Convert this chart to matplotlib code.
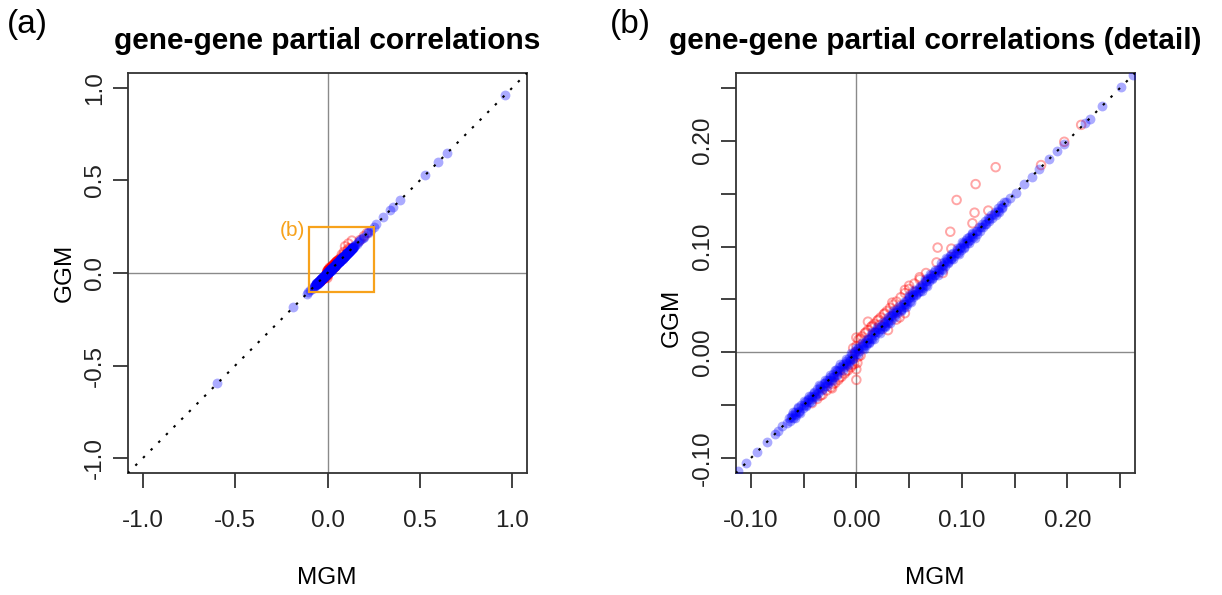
import numpy as np
import matplotlib
matplotlib.use("Agg")
import matplotlib.pyplot as plt
from matplotlib.patches import Rectangle

plt.rcParams['font.family'] = ['Liberation Sans', 'DejaVu Sans']

# blue: edges found by both models (MGM vs GGM partial correlation)
# main band, on the diagonal
band_mgm = [
    -0.066, -0.062, -0.058, -0.054, -0.050, -0.046, -0.042, -0.038, -0.034, -0.030,
    -0.026, -0.022, -0.018, -0.014, -0.010, -0.006, -0.002, 0.002, 0.006, 0.010,
    0.014, 0.018, 0.022, 0.026, 0.030, 0.034, 0.038, 0.042, 0.046, 0.050,
    0.054, 0.058, 0.062, 0.066, 0.070, 0.074, 0.078, 0.082, 0.086, 0.090,
    0.094, 0.098, 0.102, 0.106, 0.110, 0.114, 0.118, 0.122, 0.126, 0.130,
    0.134, 0.138, 0.142,
]
band_ggm = [
    -0.067, -0.061, -0.058, -0.055, -0.050, -0.045, -0.042, -0.039, -0.034, -0.029,
    -0.026, -0.023, -0.018, -0.013, -0.010, -0.007, -0.002, 0.003, 0.006, 0.009,
    0.014, 0.019, 0.022, 0.025, 0.030, 0.035, 0.038, 0.041, 0.046, 0.051,
    0.054, 0.057, 0.062, 0.067, 0.070, 0.073, 0.078, 0.083, 0.086, 0.089,
    0.094, 0.099, 0.102, 0.105, 0.110, 0.115, 0.118, 0.121, 0.126, 0.131,
    0.134, 0.137, 0.142,
]
# band, upper and lower edges
edge_mgm = [
    -0.060, -0.055, -0.050, -0.045, -0.040, -0.035, -0.030, -0.025, -0.020, -0.015,
    -0.010, -0.005, 0.000, 0.005, 0.010, 0.015, 0.020, 0.025, 0.030, 0.035,
    0.040, 0.045, 0.050, 0.055, 0.060, 0.065, 0.070, 0.075, 0.080, 0.085,
    0.090, 0.095, 0.100, 0.105, 0.110,
    -0.058, -0.053, -0.048, -0.043, -0.038, -0.033, -0.028, -0.023, -0.018, -0.013,
    -0.008, -0.003, 0.002, 0.007, 0.012, 0.017, 0.022, 0.027, 0.032, 0.037,
    0.042, 0.047, 0.052, 0.057, 0.062, 0.067, 0.072, 0.077, 0.082, 0.087,
    0.092, 0.097, 0.102, 0.107, 0.112,
]
edge_ggm = [
    -0.056, -0.052, -0.046, -0.041, -0.037, -0.031, -0.026, -0.021, -0.017, -0.011,
    -0.006, -0.001, 0.004, 0.009, 0.013, 0.019, 0.024, 0.029, 0.033, 0.039,
    0.044, 0.048, 0.054, 0.059, 0.063, 0.069, 0.074, 0.078, 0.084, 0.089,
    0.093, 0.099, 0.104, 0.108, 0.113,
    -0.062, -0.057, -0.051, -0.047, -0.042, -0.036, -0.032, -0.027, -0.021, -0.017,
    -0.012, -0.006, -0.002, 0.003, 0.009, 0.013, 0.018, 0.024, 0.028, 0.033,
    0.039, 0.043, 0.048, 0.054, 0.058, 0.063, 0.069, 0.073, 0.078, 0.084,
    0.088, 0.093, 0.099, 0.103, 0.108,
]
# band, inner rows
inner_mgm = [
    -0.064, -0.061, -0.058, -0.055, -0.052, -0.049, -0.046, -0.043, -0.040, -0.037,
    -0.034, -0.031, -0.028, -0.025, -0.022, -0.019, -0.016, -0.013, -0.010, -0.007,
    -0.004, -0.001, 0.002, 0.005, 0.008, 0.011, 0.014, 0.017, 0.020, 0.023,
    0.026, 0.029, 0.032, 0.035, 0.038, 0.041, 0.044, 0.047, 0.050, 0.053,
    0.056, 0.059, 0.062, 0.065, 0.068, 0.071, 0.074, 0.077, 0.080, 0.083,
    0.086, 0.089, 0.092, 0.095, 0.098, 0.101, 0.104, 0.107, 0.110, 0.113,
    0.116, 0.119, 0.122, 0.125, 0.128, 0.131, 0.134, 0.137, 0.140,
    -0.063, -0.060, -0.057, -0.054, -0.051, -0.048, -0.045, -0.042, -0.039, -0.036,
    -0.033, -0.030, -0.027, -0.024, -0.021, -0.018, -0.015, -0.012, -0.009, -0.006,
    -0.003, 0.000, 0.003, 0.006, 0.009, 0.012, 0.015, 0.018, 0.021, 0.024,
    0.027, 0.030, 0.033, 0.036, 0.039, 0.042, 0.045, 0.048, 0.051, 0.054,
    0.057, 0.060, 0.063, 0.066, 0.069, 0.072, 0.075, 0.078, 0.081, 0.084,
    0.087, 0.090, 0.093, 0.096, 0.099, 0.102, 0.105, 0.108, 0.111, 0.114,
    0.117, 0.120, 0.123, 0.126, 0.129, 0.132, 0.135, 0.138,
]
inner_ggm = [
    -0.062, -0.059, -0.056, -0.053, -0.050, -0.047, -0.044, -0.041, -0.038, -0.035,
    -0.032, -0.029, -0.026, -0.023, -0.020, -0.017, -0.014, -0.011, -0.008, -0.005,
    -0.002, 0.001, 0.004, 0.007, 0.010, 0.013, 0.016, 0.019, 0.022, 0.025,
    0.028, 0.031, 0.034, 0.037, 0.040, 0.043, 0.046, 0.049, 0.052, 0.055,
    0.058, 0.061, 0.064, 0.067, 0.070, 0.073, 0.076, 0.079, 0.082, 0.085,
    0.088, 0.091, 0.094, 0.097, 0.100, 0.103, 0.106, 0.109, 0.112, 0.115,
    0.118, 0.121, 0.124, 0.127, 0.130, 0.133, 0.136, 0.139, 0.142,
    -0.065, -0.062, -0.059, -0.056, -0.053, -0.050, -0.047, -0.044, -0.041, -0.038,
    -0.035, -0.032, -0.029, -0.026, -0.023, -0.020, -0.017, -0.014, -0.011, -0.008,
    -0.005, -0.002, 0.001, 0.004, 0.007, 0.010, 0.013, 0.016, 0.019, 0.022,
    0.025, 0.028, 0.031, 0.034, 0.037, 0.040, 0.043, 0.046, 0.049, 0.052,
    0.055, 0.058, 0.061, 0.064, 0.067, 0.070, 0.073, 0.076, 0.079, 0.082,
    0.085, 0.088, 0.091, 0.094, 0.097, 0.100, 0.103, 0.106, 0.109, 0.112,
    0.115, 0.118, 0.121, 0.124, 0.127, 0.130, 0.133, 0.136,
]
# sparse points away from the band (same value in both models)
sparse_mgm = [
    -0.596, -0.186, -0.112, -0.105, -0.094, -0.085, -0.077, -0.074, -0.070,
    0.146, 0.151, 0.159, 0.166, 0.173, 0.183, 0.190, 0.197, 0.217, 0.221,
    0.233, 0.251, 0.262, 0.300, 0.340, 0.356, 0.394, 0.530, 0.600, 0.647, 0.963,
]
sparse_ggm = [
    -0.596, -0.186, -0.112, -0.105, -0.094, -0.085, -0.077, -0.074, -0.070,
    0.146, 0.151, 0.159, 0.166, 0.173, 0.183, 0.190, 0.197, 0.217, 0.221,
    0.233, 0.251, 0.262, 0.300, 0.340, 0.356, 0.394, 0.530, 0.600, 0.647, 0.963,
]

# red: edges that differ between the two models
red_mgm = [
    0.132, 0.113, 0.095, 0.112, 0.125, 0.110, 0.089, 0.077, 0.090, 0.076,
    0.082, 0.060, 0.050, 0.046, 0.034, 0.041, 0.011, 0.022, 0.000, 0.000,
    0.000, -0.023, -0.034, 0.038, 0.175, 0.197, 0.213,
    0.002, 0.005, 0.008, 0.011, 0.014, 0.017, 0.020, 0.023, 0.026, 0.029,
    0.032, 0.035, 0.038, 0.042, 0.046, 0.050, 0.055, 0.060, 0.066,
    -0.002, -0.005, -0.008, -0.011, -0.014, -0.017, -0.020, -0.024, -0.028, -0.032,
    -0.037, -0.042, 0.030, 0.046, 0.002, -0.003, 0.000, 0.001, -0.001, 0.004,
    0.004, 0.009, 0.015, 0.021, 0.027, -0.004, -0.010, -0.016, -0.022,
]
red_ggm = [
    0.175, 0.159, 0.144, 0.132, 0.134, 0.122, 0.114, 0.099, 0.098, 0.085,
    0.075, 0.071, 0.063, 0.059, 0.047, 0.033, 0.029, 0.026, 0.014, -0.016,
    -0.026, -0.034, -0.041, 0.031, 0.177, 0.199, 0.215,
    0.012, 0.015, 0.018, 0.021, 0.024, 0.027, 0.030, 0.033, 0.036, 0.039,
    0.042, 0.045, 0.048, 0.052, 0.056, 0.060, 0.065, 0.069, 0.075,
    -0.011, -0.014, -0.017, -0.020, -0.023, -0.026, -0.029, -0.033, -0.036, -0.040,
    -0.044, -0.048, 0.021, 0.037, -0.004, 0.004, 0.006, -0.010, 0.000, -0.003,
    0.013, 0.019, 0.025, 0.031, 0.037, -0.012, -0.018, -0.024, -0.030,
]

blue_mgm = band_mgm + edge_mgm + inner_mgm + sparse_mgm
blue_ggm = band_ggm + edge_ggm + inner_ggm + sparse_ggm

ticks_a = [-1.0, -0.5, 0.0, 0.5, 1.0]
labels_a = ["-1.0", "-0.5", "0.0", "0.5", "1.0"]
ticks_b = [-0.10, -0.05, 0.00, 0.05, 0.10, 0.15, 0.20, 0.25]
labels_b = ["-0.10", "", "0.00", "", "0.10", "", "0.20", ""]
lim_a = (-1.08, 1.08)
lim_b = (-0.114, 0.264)
zoom_box = (-0.10, -0.10, 0.25, 0.25)  # x0, y0, x1, y1

W, H = 1222, 595
fig = plt.figure(figsize=(W / 100, H / 100), dpi=100)
ax_a = fig.add_axes([128 / W, 1 - 473 / H, 399 / W, 400 / H])
ax_b = fig.add_axes([736 / W, 1 - 473 / H, 399 / W, 400 / H])


def panel(ax, lim, ticks, labels):
    ax.axhline(0, color="#8a8a8a", lw=1.0, zorder=1)
    ax.axvline(0, color="#8a8a8a", lw=1.0, zorder=1)
    ax.scatter(red_mgm, red_ggm, s=38, facecolors="none",
               edgecolors=(1, 0, 0, 0.35), linewidths=1.4, zorder=2)
    ax.scatter(blue_mgm, blue_ggm, s=50, color=(0, 0, 1, 0.33),
               linewidths=0, zorder=3)
    ax.plot([-2, 2], [-2, 2], color="black", lw=1.5,
            linestyle=(0, (1.2, 4.0)), zorder=4)
    ax.set_xlim(lim)
    ax.set_ylim(lim)
    ax.set_xticks(ticks)
    ax.set_xticklabels(labels)
    ax.set_yticks(ticks)
    ax.set_yticklabels(labels)
    for s in ax.spines.values():
        s.set_color("#333333")
        s.set_linewidth(1.3)
    ax.tick_params(direction="out", length=10.8, width=1.3, color="#333333",
                   labelsize=17.5, labelcolor="#222222")
    ax.tick_params(axis="x", pad=16)
    ax.tick_params(axis="y", pad=5)
    plt.setp(ax.get_yticklabels(), rotation=90, va="center")


panel(ax_a, lim_a, ticks_a, labels_a)
panel(ax_b, lim_b, ticks_b, labels_b)

# zoom rectangle in panel (a)
x0, y0, x1, y1 = zoom_box
ax_a.add_patch(Rectangle((x0, y0), x1 - x0, y1 - y0, fill=False,
                         edgecolor="#F7A21B", lw=1.6, zorder=5))
ax_a.text(x0 - 0.02, y1 - 0.02, "(b)", color="#F7A21B", fontsize=15,
          ha="right", va="center", zorder=5)

# titles, panel letters and axis labels
fig.text(327 / W, 1 - 41 / H, "gene-gene partial correlations",
         fontsize=21.5, fontweight="bold", ha="center", va="center")
fig.text(935 / W, 1 - 41 / H, "gene-gene partial correlations (detail)",
         fontsize=21.5, fontweight="bold", ha="center", va="center")
fig.text(27 / W, 1 - 25 / H, "(a)", fontsize=24, ha="center", va="center")
fig.text(630 / W, 1 - 25 / H, "(b)", fontsize=24, ha="center", va="center")
for cx in (327, 935):
    fig.text(cx / W, 1 - 578 / H, "MGM", fontsize=17.5, ha="center", va="center")
fig.text(65 / W, 1 - 273 / H, "GGM", fontsize=17.5, rotation=90,
         ha="center", va="center")
fig.text(672 / W, 1 - 318 / H, "GGM", fontsize=17.5, rotation=90,
         ha="center", va="center")

fig.savefig("out.png", dpi=100)
